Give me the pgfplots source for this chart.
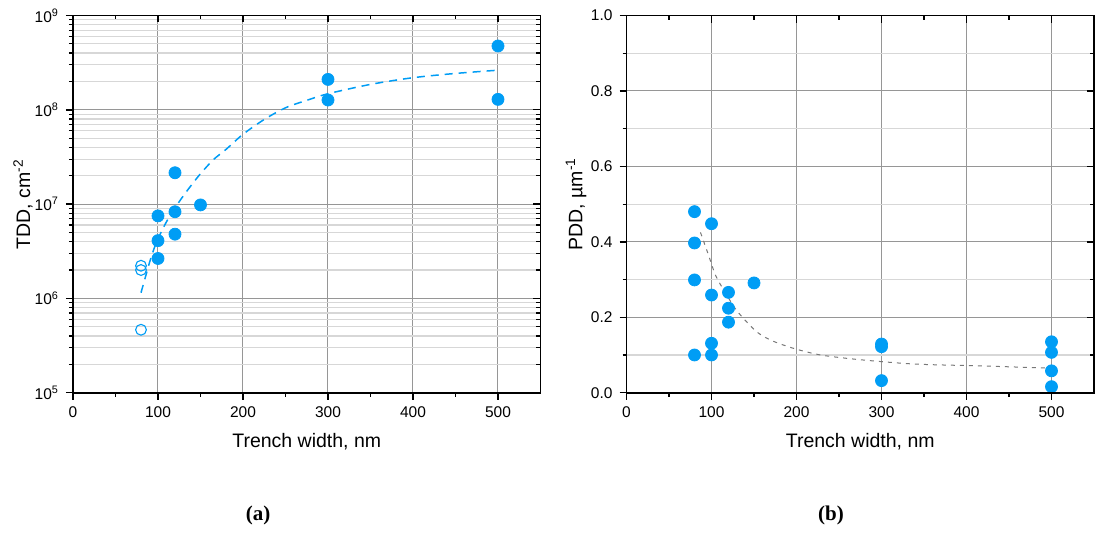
\documentclass[border=0pt]{standalone}
\usepackage{fontspec}
\setmainfont{Liberation Sans}
\newfontfamily\capfont{Liberation Serif}
\usepackage{pgfplots}
\pgfplotsset{compat=1.18}
\definecolor{tblue}{RGB}{0,157,245}
\definecolor{gmaj}{RGB}{150,150,150}
\definecolor{gmin}{RGB}{215,215,215}
\definecolor{fitgray}{RGB}{120,120,120}
\pgfplotsset{
  base/.style={scale only axis, width=233.75pt, height=188.6pt, anchor=south west,
    xmin=0, xmax=550, xtick={0,100,...,500}, minor x tick num=1,
    axis line style={line width=0.9pt},
    major tick style={line width=0.7pt, black}, minor tick style={line width=0.6pt, black},
    major tick length=3.5pt, minor tick length=2pt,
    tick label style={font=\fontsize{7.75}{9}\selectfont},
    label style={font=\fontsize{9.75}{11}\selectfont},
    /pgf/number format/assume math mode=true},
  mainax/.style={base, xtick pos=lower, ytick pos=lower, tick align=outside,
    xmajorgrids, ymajorgrids, yminorgrids,
    major grid style={gmaj, line width=0.5pt}, minor grid style={gmin, line width=0.6pt},
    xlabel={Trench width, nm},
    xlabel style={at={(axis description cs:0.5,-0.131)}, anchor=center}},
  overax/.style={base, xtick pos=upper, ytick pos=upper, tick align=inside,
    xticklabels={}, yticklabels={}},
  filled/.style={only marks, mark=*, mark size=3pt, mark options={fill=tblue, draw=tblue}},
  hollow/.style={only marks, mark=o, mark size=2.7pt, mark options={draw=tblue, line width=0.55pt, fill=white}},
}
\begin{document}
\begin{tikzpicture}
\path[use as bounding box] (0,0) rectangle (547.5pt,266pt);
% ---------------- (a) ----------------
\begin{axis}[mainax, at={(36.5pt,69.65pt)}, ymode=log, ymin=1e5, ymax=1e9,
  ytick={1e5,1e6,1e7,1e8,1e9},
  yticklabels={10\textsuperscript{5},10\textsuperscript{6},10\textsuperscript{7},10\textsuperscript{8},10\textsuperscript{9}},
  ylabel={TDD, cm\textsuperscript{-2}},
  ylabel style={at={(axis description cs:-0.107,0.5)}, anchor=center}]
\addplot[tblue, line width=0.75pt, dash pattern=on 4pt off 3pt, smooth, tension=0.5] coordinates {
 (80,1.15e6) (85,1.66e6) (90,2.4e6) (95,3.3e6) (100,4.3e6) (110,6.5e6) (120,9.1e6)
 (130,1.23e7) (140,1.62e7) (150,2.1e7) (165,2.95e7) (180,3.8e7) (200,5.5e7)
 (225,7.9e7) (250,1.05e8) (275,1.26e8) (300,1.48e8) (350,1.86e8) (400,2.19e8)
 (450,2.43e8) (500,2.63e8)};
\addplot[filled] coordinates {
 (100,7.5e6) (100,4.1e6) (100,2.65e6) (120,2.15e7) (120,8.3e6) (120,4.8e6)
 (150,9.8e6) (300,2.1e8) (300,1.27e8) (500,4.75e8) (500,1.29e8)};
\addplot[hollow] coordinates {(80,2.22e6) (80,2.0e6) (80,4.65e5)};
\end{axis}
\begin{axis}[overax, at={(36.5pt,69.65pt)}, ymode=log, ymin=1e5, ymax=1e9,
  ytick={1e5,1e6,1e7,1e8,1e9}]
\end{axis}
% ---------------- (b) ----------------
\begin{axis}[mainax, at={(313.25pt,69.65pt)}, ymin=0, ymax=1,
  ytick={0,0.2,...,1.0}, minor y tick num=1,
  yticklabel style={/pgf/number format/.cd, fixed, fixed zerofill, precision=1},
  ylabel={PDD, µm\textsuperscript{-1}},
  ylabel style={at={(axis description cs:-0.108,0.5)}, anchor=center}]
\addplot[fitgray, line width=0.5pt, dash pattern=on 2pt off 2.5pt, smooth] coordinates {
 (87,0.425) (96,0.368) (105,0.31) (115,0.27) (127,0.226) (138,0.196) (154,0.16)
 (171,0.138) (193,0.12) (214,0.107) (234,0.098) (277,0.087) (339,0.076) (417,0.071)
 (487,0.066) (500,0.065)};
\addplot[filled] coordinates {
 (80,0.48) (100,0.448) (80,0.397) (80,0.299) (100,0.259) (120,0.266) (150,0.291)
 (120,0.224) (120,0.187) (100,0.131) (80,0.100) (100,0.100)
 (300,0.129) (300,0.122) (300,0.032)
 (500,0.135) (500,0.107) (500,0.058) (500,0.016)};
\end{axis}
\begin{axis}[overax, at={(313.25pt,69.65pt)}, ymin=0, ymax=1,
  ytick={0,0.2,...,1.0}, minor y tick num=1]
\end{axis}
\node[font=\capfont\bfseries\fontsize{10.5}{12}\selectfont] at (129pt,8.5pt) {(a)};
\node[font=\capfont\bfseries\fontsize{10.5}{12}\selectfont] at (415.5pt,8.5pt) {(b)};
\end{tikzpicture}
\end{document}
